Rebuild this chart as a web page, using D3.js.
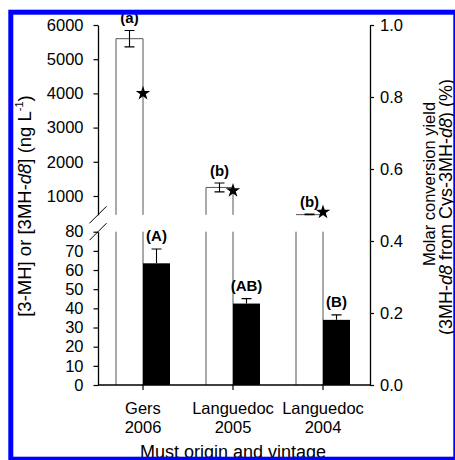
<!DOCTYPE html>
<html>
<head>
<meta charset="utf-8">
<script src="https://cdn.jsdelivr.net/npm/d3@7"></script>
<style>
  html, body { margin: 0; padding: 0; background: #fff; }
  svg { display: block; }
  text { font-family: "Liberation Sans", Arial, Helvetica, sans-serif; fill: #000; }
</style>
</head>
<body>
<svg id="chart" width="455" height="460"></svg>
<script>
// Must origin and vintage
const origins  = ["Gers", "Languedoc", "Languedoc"];
const vintages = ["2006", "2005", "2004"];

// 3MH-d8 released (ng/L), upper panel, white bars
const mhD8      = [5600, 1250, 455];
const mhD8Err   = [240, 130, 15];
const mhD8Group = ["(a)", "(b)", "(b)"];

// 3-MH released (ng/L), lower panel, black bars
const mh      = [63.5, 42.5, 34];
const mhErr   = [7.5, 2.6, 2.6];
const mhGroup = ["(A)", "(AB)", "(B)"];

// Molar conversion yield (%), right axis, stars
const convYield = [0.81, 0.54, 0.48];

// Tick values
const upperTicks = [1000, 2000, 3000, 4000, 5000, 6000];
const lowerTicks = [0, 10, 20, 30, 40, 50, 60, 70, 80];
const rightTicks = [0, 0.2, 0.4, 0.6, 0.8, 1.0];

const svg = d3.select("#chart");

const x = d3.scaleBand().domain(d3.range(origins.length)).range([98, 368]).padding(0);
const barW = 27;
const cx = i => x(i) + x.bandwidth() / 2;

const yUp  = d3.scaleLinear().domain([450, 6000]).range([214.8, 25]);
const yLow = d3.scaleLinear().domain([0, 80]).range([385, 231.7]);
const yR   = d3.scaleLinear().domain([0, 1]).range([385, 25]);

const plotRight = 370;
const upBottom = yUp(yUp.domain()[0]);
const lowTop = yLow(yLow.domain()[1]);
const base = yLow(0);

// White bars: outline only, broken across the axis gap
const white = svg.append("g").attr("stroke", "#555").attr("stroke-width", 1).attr("fill", "none");
origins.forEach((_, i) => {
  const l = cx(i) - barW, r = cx(i);
  const top = Math.max(yUp(mhD8[i]), 25);
  // upper panel part
  white.append("path").attr("d", `M${l},${upBottom}V${top}H${r}V${upBottom}`);
  // lower panel part (value exceeds lower panel range)
  white.append("path").attr("d", `M${l},${lowTop}V${base}M${r},${lowTop}V${base}`);
});

// Black bars
svg.append("g").selectAll("rect").data(mh).join("rect")
  .attr("x", (d, i) => cx(i))
  .attr("y", d => yLow(d))
  .attr("width", barW)
  .attr("height", d => base - yLow(d))
  .attr("fill", "#000");

// Error bars
const eb = svg.append("g").attr("stroke", "#000").attr("stroke-width", 1.1).attr("fill", "none");
const cap = 5;
mhD8.forEach((v, i) => {
  const ex = cx(i) - barW / 2;
  const y1 = Math.min(yUp(v - mhD8Err[i]), upBottom), y2 = yUp(v + mhD8Err[i]);
  eb.append("path").attr("d", `M${ex},${y1}V${y2}M${ex - cap},${y2}H${ex + cap}M${ex - cap},${y1}H${ex + cap}`);
});
mh.forEach((v, i) => {
  const ex = cx(i) + barW / 2;
  const y1 = yLow(v), y2 = yLow(v + mhErr[i]);
  eb.append("path").attr("d", `M${ex},${y1}V${y2}M${ex - cap},${y2}H${ex + cap}`);
});

// Group letters
const lab = svg.append("g").attr("font-size", 15).attr("font-weight", "bold").attr("text-anchor", "middle");
mhD8.forEach((v, i) => {
  lab.append("text").attr("x", cx(i) - barW / 2).attr("y", Math.min(yUp(v + mhD8Err[i]), upBottom) - 7).text(mhD8Group[i]);
});
mh.forEach((v, i) => {
  lab.append("text").attr("x", cx(i) + barW / 2).attr("y", yLow(v + mhErr[i]) - 8).text(mhGroup[i]);
});

// Stars: conversion yield
svg.append("g").selectAll("path").data(convYield).join("path")
  .attr("d", d3.symbol(d3.symbolStar, 65))
  .attr("transform", (d, i) => `translate(${cx(i)},${yR(d)})`)
  .attr("fill", "#000");

// Axes
function styleAxis(g) {
  g.selectAll("path.domain").attr("stroke", "#000").attr("stroke-width", 1.3);
  g.selectAll(".tick line").attr("stroke", "#000").attr("stroke-width", 1.2);
  g.selectAll(".tick text").attr("font-size", 16.5).attr("fill", "#000")
    .attr("font-family", '"Liberation Sans", Arial, sans-serif');
}

svg.append("g").attr("transform", "translate(98,0)")
  .call(d3.axisLeft(yUp).tickValues(upperTicks).tickFormat(d3.format("d")).tickSize(4.5).tickSizeOuter(0).tickPadding(10))
  .call(styleAxis);
svg.append("g").attr("transform", "translate(98,0)")
  .call(d3.axisLeft(yLow).tickValues(lowerTicks).tickFormat(d3.format("d")).tickSize(4.5).tickSizeOuter(0).tickPadding(10))
  .call(styleAxis);
svg.append("g").attr("transform", `translate(${plotRight},0)`)
  .call(d3.axisRight(yR).tickValues(rightTicks).tickFormat(d3.format(".1f")).tickSize(4).tickSizeOuter(0).tickPadding(6))
  .call(styleAxis);

// Bottom axis
const xAx = svg.append("g").attr("transform", `translate(0,${base})`)
  .call(d3.axisBottom(x).tickSize(5).tickSizeOuter(0).tickFormat(""))
  .call(styleAxis);
xAx.select("path.domain").attr("d", `M${x.range()[0]},0H${plotRight}`);
xAx.selectAll(".tick").attr("transform", (d) => `translate(${cx(d)},0)`);

const xl = svg.append("g").attr("font-size", 16.5).attr("text-anchor", "middle");
origins.forEach((o, i) => {
  xl.append("text").attr("x", cx(i)).attr("y", 414).text(o);
  xl.append("text").attr("x", cx(i)).attr("y", 433).text(vintages[i]);
});
xl.append("text").attr("x", 233).attr("y", 458).attr("font-size", 18).text("Must origin and vintage");

// Axis break marks
const brk = svg.append("g").attr("stroke", "#000").attr("stroke-width", 1);
[upBottom, lowTop].forEach(yy => {
  brk.append("line").attr("x1", 89.5).attr("y1", yy + 8.5).attr("x2", 106.5).attr("y2", yy - 8.5);
});

// Left title
const lt = svg.append("text").attr("font-size", 18.5).attr("text-anchor", "middle")
  .attr("transform", "translate(31,206) rotate(-90)");
lt.append("tspan").text("[3-MH] or [3MH-");
lt.append("tspan").attr("font-style", "italic").text("d8");
lt.append("tspan").text("] (ng L");
lt.append("tspan").attr("font-size", 11).attr("dy", -8).text("-1");
lt.append("tspan").attr("dy", 8).text(")");

// Right title
svg.append("text").attr("font-size", 16.5).attr("text-anchor", "middle")
  .attr("transform", "translate(435,184) rotate(-90)").text("Molar conversion yield");
const rt = svg.append("text").attr("font-size", 18).attr("text-anchor", "middle")
  .attr("transform", "translate(452,207) rotate(-90)");
rt.append("tspan").text("(3MH-");
rt.append("tspan").attr("font-style", "italic").text("d8");
rt.append("tspan").text(" from Cys-3MH-");
rt.append("tspan").attr("font-style", "italic").text("d8");
rt.append("tspan").text(") (%)");

// Frame
svg.append("rect").attr("x", 10.8).attr("y", 12.2).attr("width", 445).attr("height", 447)
  .attr("fill", "none").attr("stroke", "#0000ff").attr("stroke-width", 5);
</script>
</body>
</html>
